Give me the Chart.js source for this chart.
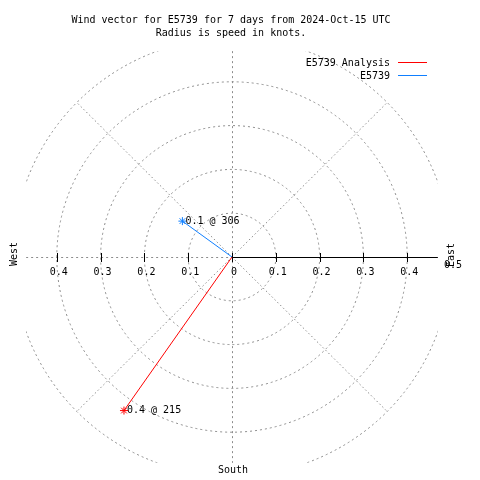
<!DOCTYPE html>
<html>
<head>
<meta charset="utf-8">
<script src="https://cdn.jsdelivr.net/npm/chart.js@4.4.1/dist/chart.umd.min.js"></script>
<style>
  html, body { margin: 0; padding: 0; background: #fff; }
  #wrap { width: 480px; height: 480px; }
</style>
</head>
<body>
<div id="wrap"><canvas id="myChart" width="480" height="480"></canvas></div>
<script>
const ctx = document.getElementById('myChart');

// data
const seriesNames = ['E5739 Analysis', 'E5739'];
const speeds = [0.43, 0.14];        // knots
const directions = [215, 306];      // degrees, compass
const ringValues = [0.1, 0.2, 0.3, 0.4, 0.5];
const tickLabelsWest = ['0.4', '0.3', '0.2', '0.1'];
const tickLabelsEast = ['0', '0.1', '0.2', '0.3', '0.4', '0.5'];
const titleLines = ['Wind vector for E5739 for 7 days from 2024-Oct-15 UTC', 'Radius is speed in knots.'];

const seriesColors = ['#ff0000', '#0f7fff'];
const FONT = '10px "DejaVu Sans Mono", monospace';
const EDGE = 0.47; // where the plot is clipped

function toXY(s, d) {
  const a = d * Math.PI / 180;
  return { x: s * Math.sin(a), y: s * Math.cos(a) };
}

const datasets = seriesNames.map((name, i) => {
  const p = toXY(speeds[i], directions[i]);
  return {
    label: name,
    data: [{ x: 0, y: 0 }, p],
    showLine: true,
    borderColor: seriesColors[i],
    backgroundColor: seriesColors[i],
    borderWidth: 1,
    pointStyle: 'star',
    pointRadius: [0, 4],
    pointBorderWidth: 1,
    pointBorderColor: seriesColors[i],
    clip: false
  };
});

const polarGrid = {
  id: 'polarGrid',
  beforeDatasetsDraw(chart) {
    const c = chart.ctx;
    const xs = chart.scales.x, ys = chart.scales.y;
    const cx = xs.getPixelForValue(0), cy = ys.getPixelForValue(0);
    const unit = xs.getPixelForValue(1) - cx;
    const lim = EDGE * unit;
    c.save();
    c.strokeStyle = '#8c8c8c';
    c.lineWidth = 1;
    // rings
    c.setLineDash([2, 3]);
    ringValues.forEach(r => {
      c.save();
      c.beginPath();
      c.rect(cx - lim, cy - lim, lim * 2, lim * 2);
      c.clip();
      c.beginPath();
      c.arc(cx, cy, r * unit, 0, Math.PI * 2);
      c.stroke();
      c.restore();
    });
    // spokes
    c.setLineDash([1.5, 2.5]);
    [45, 135, 225, 315].forEach(d => {
      const p = toXY(0.5, d);
      c.beginPath();
      c.moveTo(cx, cy);
      c.lineTo(xs.getPixelForValue(p.x), ys.getPixelForValue(p.y));
      c.stroke();
    });
    c.setLineDash([2, 3]);
    c.beginPath();
    c.moveTo(Math.round(cx) + 0.5, cy - lim);
    c.lineTo(Math.round(cx) + 0.5, cy + lim);
    c.moveTo(cx - lim, Math.round(cy) + 0.5);
    c.lineTo(cx, Math.round(cy) + 0.5);
    c.stroke();
    // east axis
    c.setLineDash([]);
    c.strokeStyle = '#000';
    c.beginPath();
    c.moveTo(cx, Math.round(cy) + 0.5);
    c.lineTo(cx + lim, Math.round(cy) + 0.5);
    [-0.4, -0.3, -0.2, -0.1, 0, 0.1, 0.2, 0.3, 0.4].forEach(v => {
      const px = Math.round(xs.getPixelForValue(v)) + 0.5;
      c.moveTo(px, cy - 4);
      c.lineTo(px, cy + 5);
    });
    c.stroke();
    c.restore();
  },
  afterDraw(chart) {
    const c = chart.ctx;
    const xs = chart.scales.x, ys = chart.scales.y;
    const cx = xs.getPixelForValue(0), cy = ys.getPixelForValue(0);
    c.save();
    c.font = FONT;
    c.fillStyle = '#000';
    c.textAlign = 'center';
    c.textBaseline = 'middle';
    // title
    c.fillText(titleLines[0], 231, 20);
    c.fillText(titleLines[1], 231, 33);
    // tick labels
    tickLabelsWest.forEach(t => {
      c.fillText(t, xs.getPixelForValue(-Number(t)) + 2, cy + 15);
    });
    tickLabelsEast.forEach(t => {
      const v = Number(t);
      c.fillText(t, xs.getPixelForValue(v) + 2, v === 0.5 ? cy + 8 : cy + 15);
    });
    c.fillText('South', cx + 1, 470);
    // rotated West / East
    [['West', 14, cy - 3], ['East', 451, cy - 2]].forEach(([t, x, y]) => {
      c.save();
      c.translate(x, y);
      c.rotate(-Math.PI / 2);
      c.fillText(t, 0, 0);
      c.restore();
    });
    // point labels
    c.textAlign = 'left';
    seriesNames.forEach((n, i) => {
      const p = toXY(speeds[i], directions[i]);
      const px = xs.getPixelForValue(p.x), py = ys.getPixelForValue(p.y);
      c.fillText(speeds[i].toFixed(1) + ' @ ' + directions[i], px + 3, py);
    });
    // legend
    c.textAlign = 'right';
    seriesNames.forEach((n, i) => {
      const y = 63 + i * 13;
      c.fillText(n, 390, y);
      c.strokeStyle = seriesColors[i];
      c.lineWidth = 1;
      c.beginPath();
      c.moveTo(398, Math.round(y) - 0.5);
      c.lineTo(427, Math.round(y) - 0.5);
      c.stroke();
    });
    c.restore();
  }
};

new Chart(ctx, {
  type: 'scatter',
  data: { datasets: datasets },
  options: {
    responsive: false,
    animation: false,
    layout: { padding: { left: 13, right: 29, top: 39, bottom: 3 } },
    scales: {
      x: { display: false, min: -0.5, max: 0.5 },
      y: { display: false, min: -0.5, max: 0.5 }
    },
    plugins: {
      legend: { display: false },
      title: { display: false },
      tooltip: { enabled: false }
    }
  },
  plugins: [polarGrid]
});
</script>
</body>
</html>
